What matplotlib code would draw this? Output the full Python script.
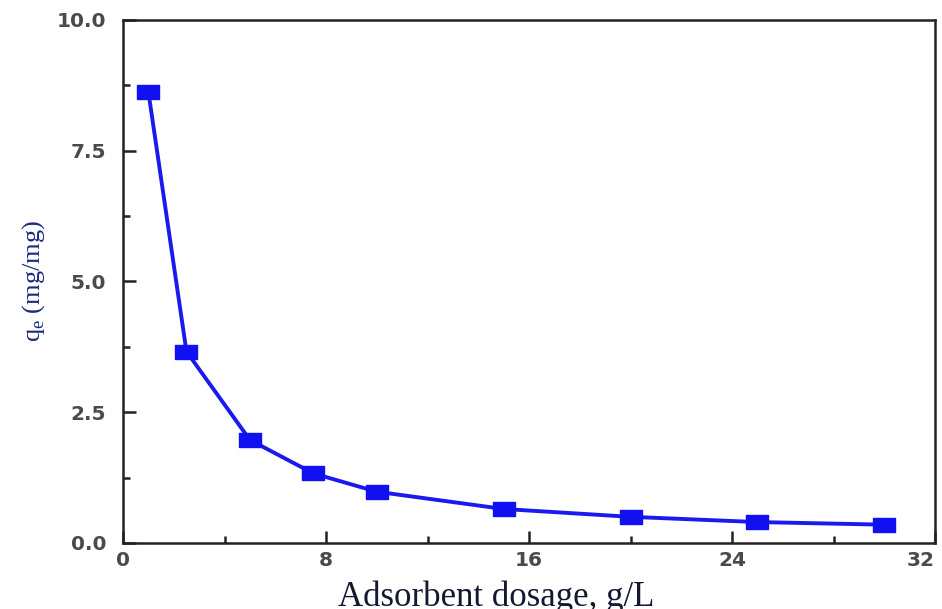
import matplotlib.pyplot as plt
from matplotlib.ticker import MultipleLocator

plt.rcParams['mathtext.fontset'] = 'custom'
plt.rcParams['mathtext.rm'] = 'Liberation Serif'

# adsorbent dosage (g/L) and uptake q_e (mg/mg)
dosage = [1, 2.5, 5, 7.5, 10, 15, 20, 25, 30]
qe = [8.62, 3.66, 1.97, 1.33, 0.98, 0.65, 0.50, 0.40, 0.35]

xticks = [0, 8, 16, 24, 32]
yticks = [0.0, 2.5, 5.0, 7.5, 10.0]

fig = plt.figure(figsize=(9.42, 6.09), dpi=100)
ax = fig.add_axes([0.1306, 0.1084, 0.862, 0.859])

# wide rectangle marker
rect = [(-1, -0.62), (1, -0.62), (1, 0.62), (-1, 0.62), (-1, -0.62)]
ax.plot(dosage, qe, color='#1a1aee', linewidth=2.8, marker=rect,
        markersize=15.5, markerfacecolor='#1010f0', markeredgecolor='#1010f0')

ax.set_xlim(0, 32)
ax.set_ylim(0, 10)
ax.set_xticks(xticks)
ax.set_yticks(yticks)
ax.set_xticklabels([str(t) for t in xticks])
ax.set_yticklabels(['%.1f' % t for t in yticks])
ax.xaxis.set_minor_locator(MultipleLocator(4))
ax.yaxis.set_minor_locator(MultipleLocator(1.25))
ax.tick_params(which='both', direction='in', top=False, right=False,
               width=1.8, color='#222222')
ax.tick_params(which='major', length=9, labelsize=14.5, labelcolor='#4a4a4a')
ax.tick_params(axis='x', which='major', pad=6)
ax.tick_params(axis='y', which='major', pad=12)
ax.tick_params(which='minor', length=5)
for lbl in ax.get_xticklabels() + ax.get_yticklabels():
    lbl.set_fontfamily('DejaVu Sans')
    lbl.set_fontweight('bold')
ax.get_xticklabels()[-1].set_horizontalalignment('right')
for sp in ax.spines.values():
    sp.set_linewidth(1.8)
    sp.set_color('#222222')

ax.set_xlabel('Adsorbent dosage, g/L', family='Liberation Serif', fontsize=25,
              color='#141830')
ax.xaxis.set_label_coords(0.46, -0.072)
ax.set_ylabel(r'q$_\mathregular{e}$ (mg/mg)', family='Liberation Serif', fontsize=19,
              color='#1a2a80')
ax.yaxis.set_label_coords(-0.094, 0.5)

fig.savefig('out.png', dpi=100)
